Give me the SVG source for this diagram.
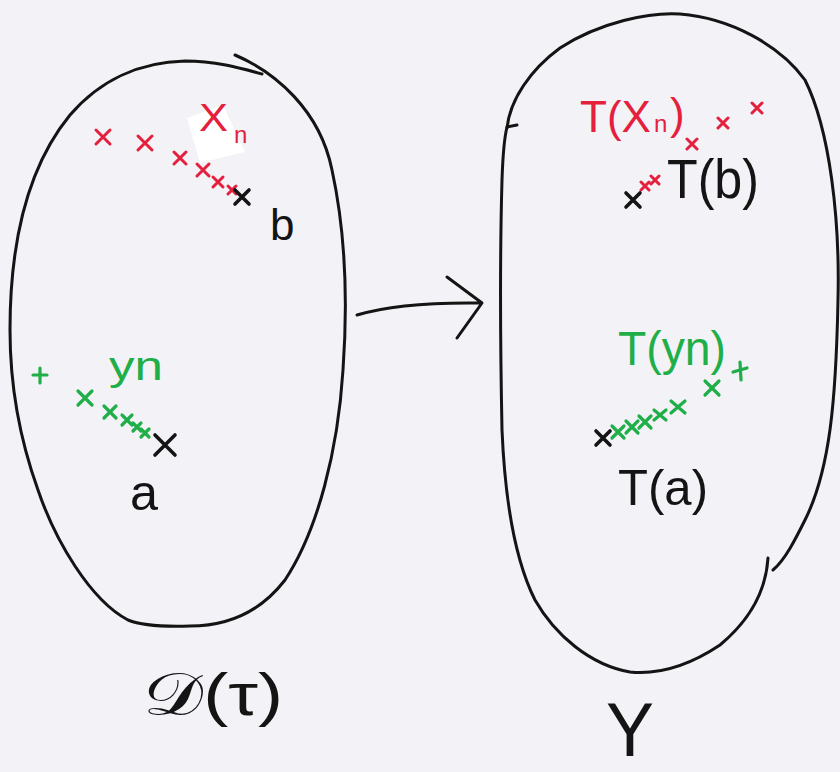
<svg xmlns="http://www.w3.org/2000/svg" width="840" height="772" viewBox="0 0 840 772">
<style>
.ln{fill:none;stroke:#141414;stroke-width:3;stroke-linecap:round;stroke-linejoin:round}
.rx{fill:none;stroke:#e5203c;stroke-width:3;stroke-linecap:round}
.gx{fill:none;stroke:#1fae48;stroke-width:3.2;stroke-linecap:round}
.bx{fill:none;stroke:#141414;stroke-width:3.6;stroke-linecap:round}
.t{font-family:"Liberation Sans",Arial,sans-serif}
.red{fill:#e5203c}.grn{fill:#1fae48}.blk{fill:#141414}
</style>
<rect width="840" height="772" fill="#f2f2f7"/>
<g id="domain">
<path class="ln" d="M235,55 C275,72 320,110 332,170 C345,230 348,300 343,370 C338,450 318,530 285,580 C258,615 225,626 190,626 C160,627 140,625 128,620 C90,600 55,540 38,490 C20,440 10,390 10,330 C10,250 25,170 70,115 C100,80 140,62 185,61 C215,61 240,68 262,74"/>
<polygon points="187,118 223,105 245,152 200,163" fill="#ffffff"/>
<path class="rx" d="M96,130 L110,144 M110,130 L96,144 M138,136 L152,150 M152,136 L138,150 M174,152 L186,164 M186,152 L174,164 M197,164 L209,176 M209,164 L197,176 M213,177 L223,187 M223,177 L213,187 M228,186 L236,194 M236,186 L228,194"/>
<path class="bx" d="M235,190 L249,204 M249,190 L235,204"/>
<text class="t red" x="199" y="131" font-size="38" textLength="29" lengthAdjust="spacingAndGlyphs">X</text>
<text class="t red" x="234" y="143" font-size="24">n</text>
<text class="t blk" x="270" y="240" font-size="44">b</text>
<path class="gx" d="M33,375 L47,375 M40,368 L40,383 M78,391 L92,405 M92,391 L78,405 M104,406 L116,418 M116,406 L104,418 M122,415 L132,425 M132,415 L122,425 M133,423 L141,431 M141,423 L133,431 M141,429 L149,437 M149,429 L141,437"/>
<path class="bx" d="M155,435 L175,455 M175,435 L155,455"/>
<text class="t grn" x="109" y="380" font-size="40" textLength="54" lengthAdjust="spacingAndGlyphs">yn</text>
<text class="t blk" x="130" y="510" font-size="50" textLength="28" lengthAdjust="spacingAndGlyphs">a</text>
<text class="t blk" x="143" y="715" font-size="60" textLength="140" lengthAdjust="spacingAndGlyphs">𝒟(τ)</text>
</g>
<g id="codomain">
<path class="ln" d="M517,125 L507,127 M507,128 C510,100 530,70 560,48 C600,22 650,12 680,14 C730,18 780,45 805,80 C830,130 840,220 838,300 C836,400 830,470 805,520 C795,540 785,560 773,570"/>
<path class="ln" d="M768,558 C766,590 750,620 720,645 C690,665 660,675 630,672 C590,665 555,635 535,600 C515,560 505,500 502,430 C500,330 500,250 502,180 C503,150 505,135 507,127"/>
<text class="t red" x="580" y="132" font-size="44">T(X</text>
<text class="t red" x="654" y="132" font-size="24">n</text>
<text class="t red" x="670" y="129" font-size="44">)</text>
<path class="rx" d="M687,139 L697,149 M697,139 L687,149 M718,118 L728,128 M728,118 L718,128 M752,103 L762,113 M762,103 L752,113 M651,176 L659,184 M659,176 L651,184 M641,182 L649,190 M649,182 L641,190"/>
<path class="bx" d="M626,193 L640,207 M640,193 L626,207"/>
<text class="t blk" x="667" y="198" font-size="56" textLength="92" lengthAdjust="spacingAndGlyphs">T(b)</text>
<text class="t grn" x="618" y="365" font-size="48" textLength="108" lengthAdjust="spacingAndGlyphs">T(yn)</text>
<path class="gx" d="M733,372 L747,368 M740,362 L741,380 M705,381 L719,395 M719,381 L705,395 M671,401 L685,413 M685,401 L671,413 M654,410 L666,420 M666,410 L654,420 M639,416 L651,428 M651,416 L639,428 M626,421 L638,433 M638,421 L626,433 M612,426 L624,438 M624,426 L612,438"/>
<path class="bx" d="M596,431 L610,445 M610,431 L596,445"/>
<text class="t blk" x="618" y="505" font-size="50" textLength="90" lengthAdjust="spacingAndGlyphs">T(a)</text>
<text class="t blk" x="606" y="756" font-size="76" textLength="48" lengthAdjust="spacingAndGlyphs">Y</text>
</g>
<g id="connectors">
<path class="ln" d="M357,315 C380,308 420,302 482,303 M447,277 L482,303 L457,338"/>
</g>
</svg>
